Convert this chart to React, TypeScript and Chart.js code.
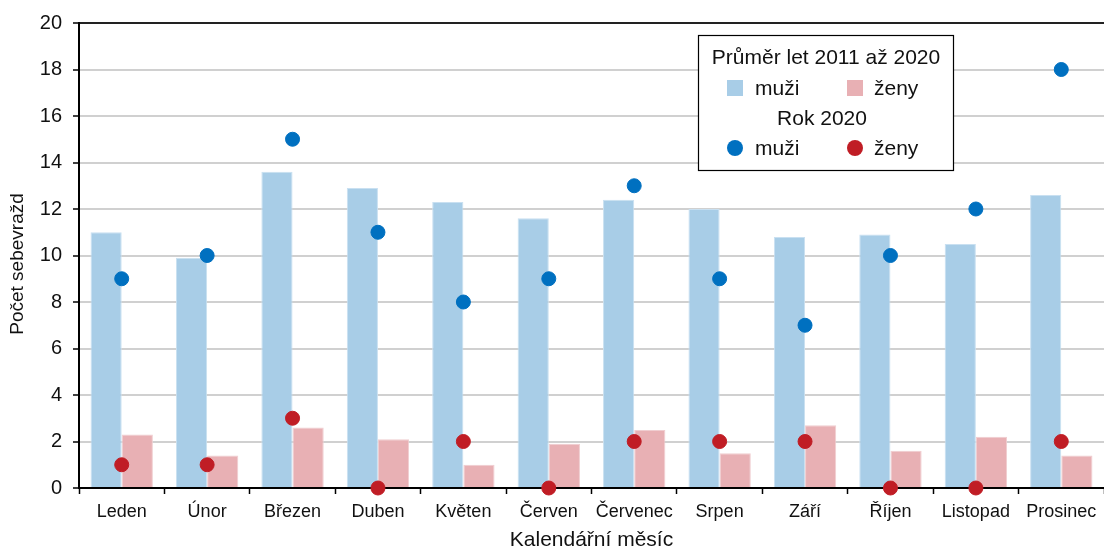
import React, { useEffect, useRef } from "react";
import { Chart, registerables } from "chart.js";

Chart.register(...registerables);

const months = ["Leden", "Únor", "Březen", "Duben", "Květen", "Červen", "Červenec", "Srpen", "Září", "Říjen", "Listopad", "Prosinec"];
const avgMen = [11.0, 9.9, 13.6, 12.9, 12.3, 11.6, 12.4, 12.0, 10.8, 10.9, 10.5, 12.6];
const avgWomen = [2.3, 1.4, 2.6, 2.1, 1.0, 1.9, 2.5, 1.5, 2.7, 1.6, 2.2, 1.4];
const men2020 = [9, 10, 15, 11, 8, 9, 13, 9, 7, 10, 12, 18];
const women2020 = [1, 1, 3, 0, 2, 0, 2, 2, 2, 0, 0, 2];

const legendHeader1 = "Průměr let 2011 až 2020";
const legendHeader2 = "Rok 2020";
const labelMen = "muži";
const labelWomen = "ženy";
const yTitle = "Počet sebevražd";
const xTitle = "Kalendářní měsíc";

const C_BLUE_BAR = "#A8CDE7";
const C_PINK_BAR = "#E8B0B4";
const C_BLUE_DOT = "#0070C0";
const C_RED_DOT = "#C01D25";
const FONT = "'Liberation Sans', Arial, sans-serif";

const legendPlugin = {
  id: "customLegend",
  afterDraw(chart: any) {
    const ctx = chart.ctx;
    ctx.save();
    ctx.fillStyle = "#111";
    ctx.font = `19px ${FONT}`;
    ctx.textAlign = "center";
    ctx.textBaseline = "middle";
    ctx.translate(18, 264);
    ctx.rotate(-Math.PI / 2);
    ctx.fillText(yTitle, 0, 0);
    ctx.restore();

    ctx.save();
    const x0 = 698, y0 = 35, w = 255, h = 135;
    ctx.fillStyle = "#fff";
    ctx.fillRect(x0, y0, w, h);
    ctx.strokeStyle = "#000";
    ctx.lineWidth = 1.2;
    ctx.strokeRect(x0 + 0.5, y0 + 0.5, w, h);
    ctx.fillStyle = "#111";
    ctx.font = `21px ${FONT}`;
    ctx.textBaseline = "middle";
    ctx.textAlign = "center";
    ctx.fillText(legendHeader1, 826, 58);
    ctx.fillText(legendHeader2, 822, 119);
    ctx.textAlign = "left";
    ctx.fillStyle = C_BLUE_BAR;
    ctx.fillRect(727, 80, 16, 16);
    ctx.fillStyle = C_PINK_BAR;
    ctx.fillRect(847, 80, 16, 16);
    ctx.fillStyle = "#111";
    ctx.fillText(labelMen, 755, 89);
    ctx.fillText(labelWomen, 874, 89);
    ctx.fillStyle = C_BLUE_DOT;
    ctx.beginPath();
    ctx.arc(735, 148, 8, 0, Math.PI * 2);
    ctx.fill();
    ctx.fillStyle = C_RED_DOT;
    ctx.beginPath();
    ctx.arc(855, 148, 8, 0, Math.PI * 2);
    ctx.fill();
    ctx.fillStyle = "#111";
    ctx.fillText(labelMen, 755, 149);
    ctx.fillText(labelWomen, 874, 149);
    ctx.restore();
  },
};

export default function App() {
  const ref = useRef<HTMLCanvasElement | null>(null);
  useEffect(() => {
    document.body.style.margin = "0";
    const canvas = ref.current!;
    const chart = new Chart(canvas, {
      type: "bar",
      data: {
        labels: months,
        datasets: [
          {
            type: "line",
            label: "muži 2020",
            data: men2020,
            showLine: false,
            pointRadius: 7,
            pointHoverRadius: 7,
            pointBackgroundColor: C_BLUE_DOT,
            pointBorderColor: C_BLUE_DOT,
            borderColor: C_BLUE_DOT,
            backgroundColor: C_BLUE_DOT,
            order: 0,
            clip: false,
          } as any,
          {
            type: "line",
            label: "ženy 2020",
            data: women2020,
            showLine: false,
            pointRadius: 7,
            pointHoverRadius: 7,
            pointBackgroundColor: C_RED_DOT,
            pointBorderColor: C_RED_DOT,
            borderColor: C_RED_DOT,
            backgroundColor: C_RED_DOT,
            order: 0,
            clip: false,
          } as any,
          {
            type: "bar",
            label: "muži průměr",
            data: avgMen,
            backgroundColor: C_BLUE_BAR,
            borderColor: "#C9E0F1",
            borderWidth: 1,
            categoryPercentage: 0.73,
            barPercentage: 1.0,
            order: 1,
          },
          {
            type: "bar",
            label: "ženy průměr",
            data: avgWomen,
            backgroundColor: C_PINK_BAR,
            borderColor: "#F0CDD0",
            borderWidth: 1,
            categoryPercentage: 0.73,
            barPercentage: 1.0,
            order: 1,
          },
        ],
      },
      options: {
        responsive: false,
        animation: false,
        devicePixelRatio: 1,
        layout: { autoPadding: false, padding: { top: 18, right: -2, left: 0, bottom: 0 } },
        plugins: {
          legend: { display: false },
          tooltip: { enabled: false },
          title: { display: false },
        },
        scales: {
          x: {
            offset: true,
            grid: {
              offset: true,
              drawOnChartArea: false,
              drawTicks: true,
              tickLength: 6,
              tickColor: "#000",
              tickWidth: 1.5,
            },
            border: { color: "#000", width: 2 },
            ticks: {
              color: "#111",
              font: { family: FONT, size: 18 },
              padding: 7,
              maxRotation: 0,
              autoSkip: false,
            },
            title: {
              display: true,
              text: xTitle,
              color: "#111",
              font: { family: FONT, size: 21 },
              padding: { top: 2, bottom: -3 },
            },
            afterFit(scale: any) {
              scale.height = 62;
            },
          },
          y: {
            min: 0,
            max: 20,
            ticks: {
              stepSize: 2,
              color: "#111",
              font: { family: FONT, size: 20 },
              padding: 11,
            },
            grid: {
              color: (c: any) => (c.tick && c.tick.value === 20 ? "#222" : "#D0D0D0"),
              lineWidth: 2,
              tickLength: 6,
              tickColor: "#000",
              tickWidth: 1.5,
            },
            border: { color: "#000", width: 2 },
            title: { display: false },
            afterFit(scale: any) {
              scale.width = 79;
            },
          },
        },
      },
      plugins: [legendPlugin],
    });
    return () => chart.destroy();
  }, []);
  return (
    <div style={{ width: 1104, height: 550, background: "#fff", overflow: "hidden" }}>
      <canvas ref={ref} width={1104} height={550} style={{ display: "block" }} />
    </div>
  );
}
